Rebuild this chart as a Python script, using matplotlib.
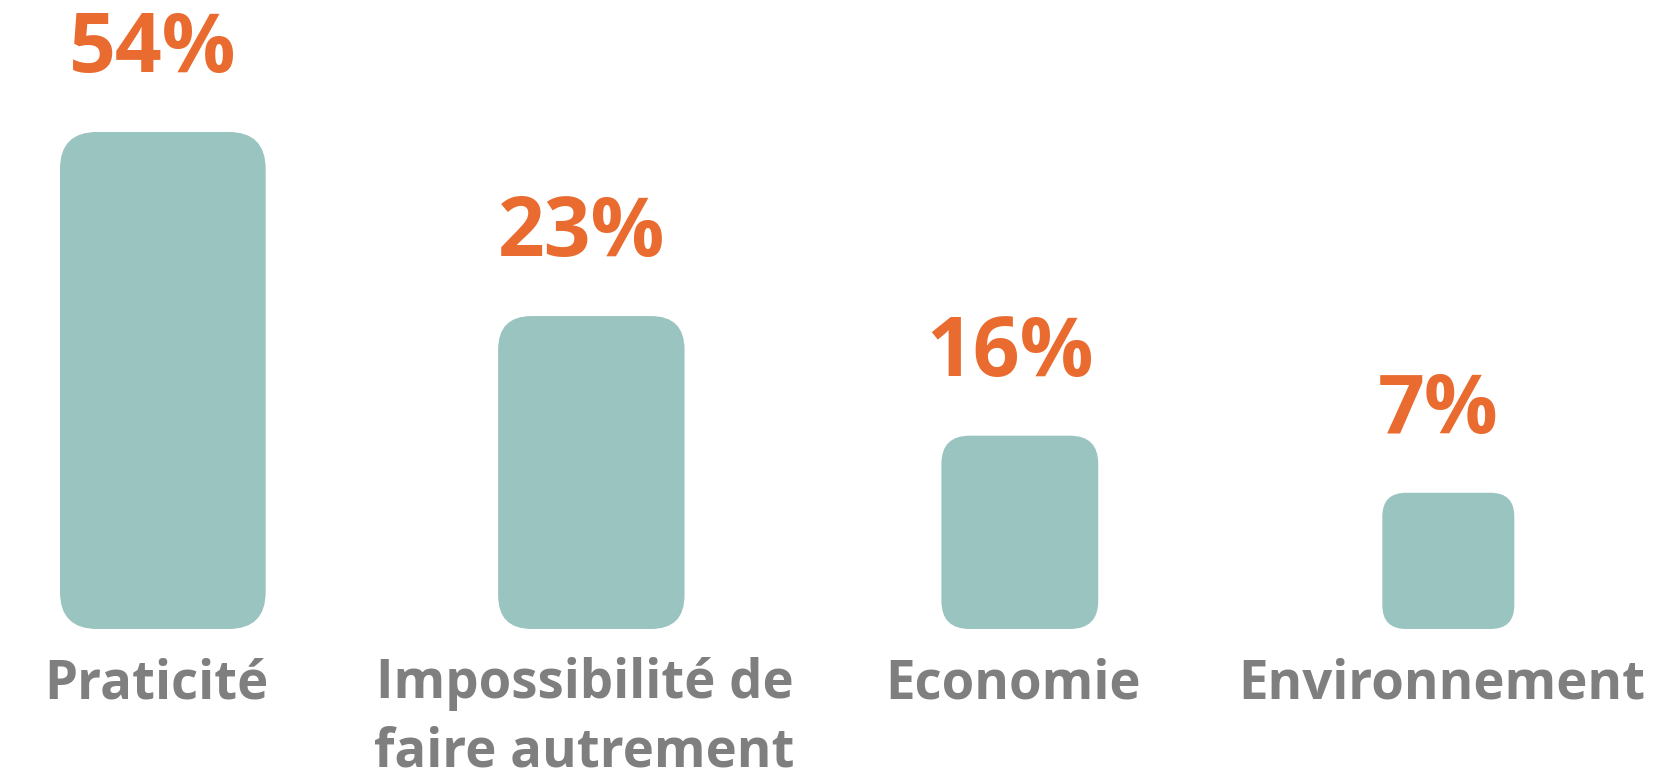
import matplotlib.pyplot as plt
from matplotlib.patches import FancyBboxPatch

# data
categories = ["Praticité", "Impossibilité de\nfaire autrement", "Economie", "Environnement"]
values = [54, 23, 16, 7]
# drawn bar heights (the infographic is not to scale), same units as the tallest bar
bar_heights = [54, 34.0, 21.0, 14.8]

# styling
bar_widths = [0.48, 0.435, 0.366, 0.308]
bar_color = "#99C4BF"
value_color = "#E96B2F"
label_color = "#7F7F7F"
font = ["Open Sans", "DejaVu Sans"]

fig = plt.figure(figsize=(16.57, 7.79), dpi=100)
ax = fig.add_axes([0, 0, 1, 1])
ax.set_xlim(-0.38, 3.487)
ax.set_ylim(-16.3, 68.34)
ax.axis("off")

# x px per unit / y px per unit, so the corners stay circular
fig.canvas.draw()
p0 = ax.transData.transform((0, 0))
p1 = ax.transData.transform((1, 1))
aspect = (p1[0] - p0[0]) / (p1[1] - p0[1])

bars = ax.bar(range(len(categories)), bar_heights, width=bar_widths, color="none")
for rect in bars:
    x, y = rect.get_x(), rect.get_y()
    w, h = rect.get_width(), rect.get_height()
    r = w * 0.18
    box = FancyBboxPatch((x, y), w, h,
                         boxstyle=f"round,pad=0,rounding_size={r}",
                         mutation_aspect=aspect,
                         facecolor=bar_color, edgecolor="none")
    ax.add_patch(box)

for i, (v, h) in enumerate(zip(values, bar_heights)):
    ax.annotate(f"{v}%", (i, h), xytext=(-7, 43), textcoords="offset points",
                ha="center", va="baseline", color=value_color,
                fontsize=59, fontweight="bold", family=font)

# category names, one line at a time so the first lines share a baseline
for i, c in enumerate(categories):
    for k, line in enumerate(c.split("\n")):
        ax.annotate(line, (i, 0), xytext=(-5, -50 - 49 * k), textcoords="offset points",
                    ha="center", va="baseline", color=label_color,
                    fontsize=38, fontweight="bold", family=font)

fig.savefig("out.png", dpi=100)
